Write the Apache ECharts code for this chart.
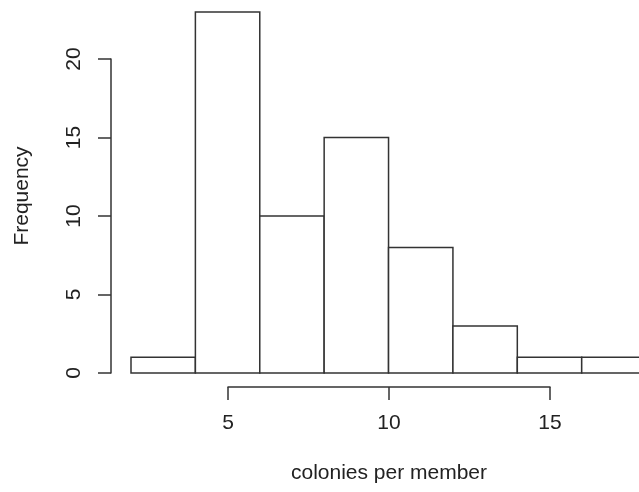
<!DOCTYPE html>
<html><head><meta charset="utf-8">
<script src="https://cdn.jsdelivr.net/npm/echarts@6/dist/echarts.min.js"></script>
<style>html,body{margin:0;padding:0;background:#fff}#c{width:639px;height:492px}</style>
</head><body><div id="c"></div>
<script>
// histogram bins: [start, end]
const binStarts = [2, 4, 6, 8, 10, 12, 14, 16];
const binEnds   = [4, 6, 8, 10, 12, 14, 16, 18];
const counts    = [1, 23, 10, 15, 8, 3, 1, 1];
const xTicks = [5, 10, 15];
const yTicks = [0, 5, 10, 15, 20];
const xTitle = 'colonies per member';
const yTitle = 'Frequency';

const FONT = 'Liberation Sans, Arial, Helvetica, sans-serif';
const INK = '#222';
const LINE = '#333';
const FS = 21;

const chart = echarts.init(document.getElementById('c'), null, {renderer: 'canvas'});
const data = binStarts.map((s, i) => [s, binEnds[i], counts[i]]);

chart.setOption({
  animation: false,
  backgroundColor: '#fff',
  grid: [
    // visible part of the plotting range (the reference is cropped at the right edge)
    {left: 131, right: 0, top: 59, bottom: 119, containLabel: false},
    {left: 228, right: 89, top: 100, bottom: 105, containLabel: false},
    {left: 111, width: 10, top: 0, bottom: 100, containLabel: false}
  ],
  xAxis: [
    {gridIndex: 0, type: 'value', min: 2, max: 17.78, show: false},
    {gridIndex: 1, type: 'value', min: xTicks[0], max: xTicks[xTicks.length - 1], interval: 5,
      axisLine: {show: true, lineStyle: {color: LINE, width: 1.5}},
      axisTick: {show: true, length: 13, lineStyle: {color: LINE, width: 1.5}},
      splitLine: {show: false},
      axisLabel: {margin: 26, fontSize: FS, color: INK, fontFamily: FONT, lineHeight: FS},
      name: xTitle, nameLocation: 'middle', nameGap: 76,
      nameTextStyle: {fontSize: FS, color: INK, fontFamily: FONT, lineHeight: FS}
    },
    {gridIndex: 2, type: 'value', show: false}
  ],
  yAxis: [
    {gridIndex: 0, type: 'value', min: yTicks[0], max: yTicks[yTicks.length - 1], interval: 5, offset: 20,
      axisLine: {show: true, lineStyle: {color: LINE, width: 1.5}},
      axisTick: {show: true, length: 13, lineStyle: {color: LINE, width: 1.5}},
      splitLine: {show: false},
      axisLabel: {rotate: 90, margin: 26, fontSize: FS, color: INK, fontFamily: FONT, lineHeight: FS}
    },
    {gridIndex: 1, type: 'value', show: false},
    {gridIndex: 2, type: 'value', min: 0, max: 1,
      axisLine: {show: false}, axisTick: {show: false}, axisLabel: {show: false}, splitLine: {show: false},
      name: yTitle, nameLocation: 'middle', nameGap: 78,
      nameTextStyle: {fontSize: FS, color: INK, fontFamily: FONT, lineHeight: FS}
    }
  ],
  series: [{
    type: 'custom',
    xAxisIndex: 0, yAxisIndex: 0,
    clip: false,
    data: data,
    renderItem: function (params, api) {
      const p0 = api.coord([api.value(0), api.value(2)]);
      const p1 = api.coord([api.value(1), 0]);
      return {
        type: 'rect',
        shape: {x: p0[0], y: p0[1], width: p1[0] - p0[0], height: p1[1] - p0[1]},
        style: {fill: '#fff', stroke: LINE, lineWidth: 1.5}
      };
    }
  }]
});
</script></body></html>
